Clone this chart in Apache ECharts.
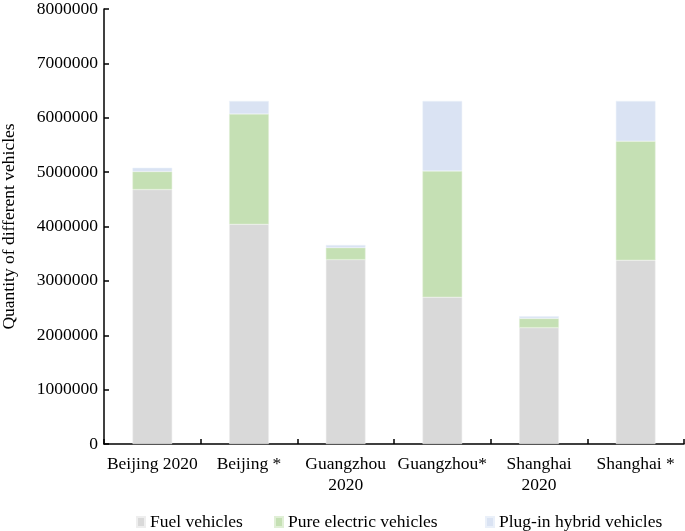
<!DOCTYPE html>
<html><head><meta charset="utf-8">
<script src="https://cdn.jsdelivr.net/npm/echarts@6/dist/echarts.min.js"></script>
<style>html,body{margin:0;padding:0;background:#fff}#c{width:685px;height:531px}</style>
</head><body><div id="c"></div>
<script>
const categories = ["Beijing 2020", "Beijing *", "Guangzhou\n2020", "Guangzhou*", "Shanghai\n2020", "Shanghai *"];
const fuelVehicles = [4680000, 4040000, 3390000, 2700000, 2140000, 3380000];
const pureElectric = [330000, 2030000, 220000, 2320000, 170000, 2190000];
const pluginHybrid = [70000, 240000, 50000, 1290000, 40000, 740000];
const yTicks = {min: 0, max: 8000000, interval: 1000000};

const font = "'Liberation Serif', 'Times New Roman', serif";
const fs = 17.5;
const chart = echarts.init(document.getElementById('c'), null, {renderer: 'canvas'});
const legendBase = {
  orient: 'horizontal', top: 508, itemWidth: 8, itemHeight: 10, itemGap: 5,
  icon: 'rect', textStyle: {fontFamily: font, fontSize: fs, color: '#000'}
};
chart.setOption({
  animation: false,
  grid: {left: 104, right: 1, top: 9, bottom: 87, containLabel: false, outerBoundsMode: 'none'},
  legend: [
    Object.assign({}, legendBase, {left: 131, data: ['Fuel vehicles']}),
    Object.assign({}, legendBase, {left: 269, data: ['Pure electric vehicles']}),
    Object.assign({}, legendBase, {left: 480, data: ['Plug-in hybrid vehicles']})
  ],
  xAxis: {
    type: 'category', data: categories,
    axisLine: {lineStyle: {color: '#000', width: 1.5}},
    axisTick: {show: true, inside: true, length: 5, lineStyle: {color: '#000', width: 1.5}},
    axisLabel: {fontFamily: font, fontSize: fs, color: '#000', margin: 10, lineHeight: 21, interval: 0}
  },
  yAxis: {
    type: 'value', min: yTicks.min, max: yTicks.max, interval: yTicks.interval,
    name: 'Quantity of different vehicles', nameLocation: 'middle', nameRotate: 90, nameGap: 86,
    nameTextStyle: {fontFamily: font, fontSize: fs, color: '#000'},
    axisLine: {show: true, lineStyle: {color: '#000', width: 1.5}},
    axisTick: {show: true, inside: true, length: 5, lineStyle: {color: '#000', width: 1.5}},
    splitLine: {show: false},
    axisLabel: {fontFamily: font, fontSize: fs, color: '#000', margin: 6, formatter: v => String(v)}
  },
  series: [
    {name: 'Fuel vehicles', type: 'bar', stack: 'a', data: fuelVehicles, barWidth: '41%',
     itemStyle: {color: '#d9d9d9', borderColor: '#eeeeee', borderWidth: 0.5}},
    {name: 'Pure electric vehicles', type: 'bar', stack: 'a', data: pureElectric, barWidth: '41%',
     itemStyle: {color: '#c5e0b4', borderColor: '#e0efd6', borderWidth: 0.5}},
    {name: 'Plug-in hybrid vehicles', type: 'bar', stack: 'a', data: pluginHybrid, barWidth: '41%',
     itemStyle: {color: '#dae3f3', borderColor: '#eaf0f9', borderWidth: 0.5}}
  ]
});
</script></body></html>
